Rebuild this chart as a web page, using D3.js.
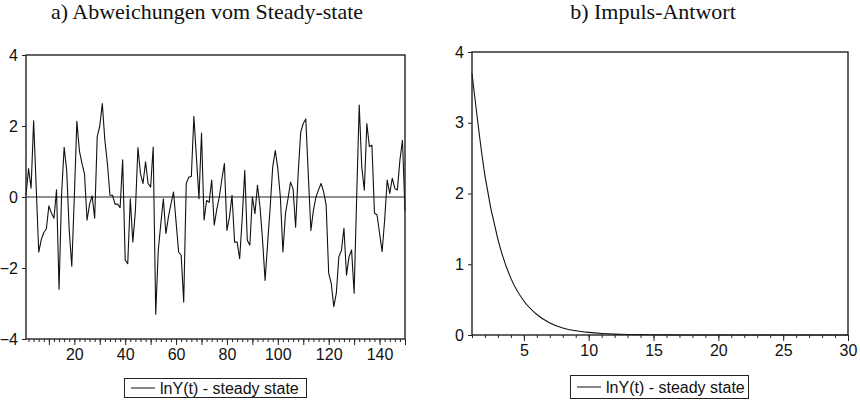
<!DOCTYPE html>
<html>
<head>
<meta charset="utf-8">
<script src="https://cdn.jsdelivr.net/npm/d3@7"></script>
<style>
  body { margin: 0; background: #fff; }
  .title { font-family: "Liberation Serif", "Times New Roman", serif; font-size: 22px; fill: #111; }
  .tick text, .lbl { font-family: "Liberation Sans", Arial, sans-serif; font-size: 16px; fill: #111; }
</style>
</head>
<body>
<svg id="chart" width="860" height="405"></svg>
<script>
// a) deviations from steady state, t = 1..150
var devValues = [
  0.05, 0.8, 0.25, 2.15, 0.3, -1.55, -1.2, -1.0, -0.9, -0.25,
  -0.45, -0.6, 0.2, -2.6, 0.1, 1.4, 0.75, -0.95, -1.95, 0.0,
  2.13, 1.3, 0.95, 0.65, -0.65, -0.2, 0.03, -0.6, 1.7, 2.0,
  2.63, 1.6, 0.95, 0.05, 0.05, -0.2, -0.2, -0.3, 1.05, -1.78,
  -1.88, -0.05, -1.27, -0.4, 1.39, 0.66, 0.38, 0.99, 0.38, 0.28,
  1.41, -3.3, -1.5, -0.75, -0.05, -1.03, -0.56, -0.19, 0.14, -0.7,
  -1.55, -1.64, -2.96, 0.38, 0.56, 0.58, 2.27, 1.13, -0.05, 1.8,
  -0.65, -0.1, -0.15, 0.48, -0.79, -0.35, 0.0, 0.5, 0.94, -0.94,
  -0.56, 0.05, -1.27, -1.27, -1.74, -0.6, 0.75, -1.22, -1.36, 0.0,
  -0.47, 0.33, -0.28, -1.22, -2.35, -1.3, -0.28, 0.85, 1.31, 0.8,
  0.0, -1.55, -0.47, -0.05, 0.42, 0.23, -0.85, 0.66, 1.83, 2.07,
  2.2, 0.6, -0.94, -0.37, 0.0, 0.2, 0.38, 0.15, -0.23, -2.15,
  -2.43, -3.09, -2.71, -1.68, -1.51, -0.88, -2.2, -1.68, -1.49, -2.71,
  0.0, 2.59, 0.85, 0.19, 2.07, 1.42, 1.46, -0.46, -0.5, -1.02,
  -1.54, -0.65, 0.48, 0.1, 0.53, 0.24, 0.2, 1.04, 1.6, -0.4
];

// b) impulse response, t = 1..30
var irfValues = [
  3.7, 2.25, 1.35, 0.8, 0.48, 0.29, 0.17, 0.1, 0.06, 0.037,
  0.022, 0.013, 0.008, 0.005, 0.003, 0.002, 0.001, 0.001, 0.0, 0.0,
  0.0, 0.0, 0.0, 0.0, 0.0, 0.0, 0.0, 0.0, 0.0, 0.0
];

var devTicksY = [-4, -2, 0, 2, 4];
var devTicksX = [20, 40, 60, 80, 100, 120, 140];
var irfTicksY = [0, 1, 2, 3, 4];
var irfTicksX = [5, 10, 15, 20, 25, 30];

var titles = ["a) Abweichungen vom Steady-state", "b) Impuls-Antwort"];
var legendLabel = "lnY(t) - steady state";

var svg = d3.select("#chart");

// panel geometry
var panels = [
  {left: 26, right: 405, top: 55, bottom: 339, titleX: 207,
   legend: {x: 124, y: 378, w: 182, h: 19, line: 24}},
  {left: 472, right: 848, top: 52, bottom: 335, titleX: 653,
   legend: {x: 570, y: 375, w: 178, h: 23, line: 24}}
];

function drawFrame(g, p) {
  g.append("rect")
    .attr("x", p.left).attr("y", p.top)
    .attr("width", p.right - p.left).attr("height", p.bottom - p.top)
    .attr("fill", "none").attr("stroke", "#222").attr("stroke-width", 1.4);
}

function drawLegend(g, lg) {
  g.append("rect")
    .attr("x", lg.x + 0.5).attr("y", lg.y + 0.5)
    .attr("width", lg.w).attr("height", lg.h)
    .attr("fill", "#fff").attr("stroke", "#222").attr("stroke-width", 1);
  g.append("line")
    .attr("x1", lg.x + 7).attr("x2", lg.x + 7 + lg.line)
    .attr("y1", lg.y + lg.h / 2 + 0.5).attr("y2", lg.y + lg.h / 2 + 0.5)
    .attr("stroke", "#111").attr("stroke-width", 1);
  g.append("text")
    .attr("class", "lbl")
    .attr("x", lg.x + lg.line + 12)
    .attr("y", lg.y + lg.h / 2 + 6)
    .text(legendLabel);
}

function styleAxis(sel) {
  sel.select(".domain").remove();
  sel.selectAll(".tick line").attr("stroke", "#222");
}

// ---------- panel a ----------
var pa = panels[0];
var ga = svg.append("g");

var xa = d3.scaleLinear().domain([1, devValues.length]).range([pa.left, pa.right]);
var ya = d3.scaleLinear().domain([-4, 4]).range([pa.bottom, pa.top]);

ga.append("text").attr("class", "title")
  .attr("x", pa.titleX).attr("y", 19).attr("text-anchor", "middle")
  .text(titles[0]);

// minor ticks every 2, longer every 10
ga.append("g")
  .attr("transform", "translate(0," + pa.bottom + ")")
  .call(d3.axisBottom(xa).tickValues(d3.range(2, 151, 2)).tickSize(3).tickFormat(""))
  .call(styleAxis);
ga.append("g")
  .attr("transform", "translate(0," + pa.bottom + ")")
  .call(d3.axisBottom(xa).tickValues(d3.range(10, 151, 10)).tickSize(6).tickFormat(""))
  .call(styleAxis);
ga.append("g")
  .attr("transform", "translate(0," + pa.bottom + ")")
  .call(d3.axisBottom(xa).tickValues(devTicksX).tickSize(0).tickPadding(10))
  .call(styleAxis);

ga.append("g")
  .attr("transform", "translate(" + pa.left + ",0)")
  .call(d3.axisLeft(ya).tickValues(devTicksY).tickSize(4).tickPadding(4).tickFormat(d3.format("d")))
  .call(styleAxis);

ga.selectAll(".tick text").attr("class", "lbl");

ga.append("line")
  .attr("x1", pa.left).attr("x2", pa.right)
  .attr("y1", ya(0)).attr("y2", ya(0))
  .attr("stroke", "#222").attr("stroke-width", 1);

ga.append("path")
  .datum(devValues)
  .attr("fill", "none")
  .attr("stroke", "#111")
  .attr("stroke-width", 1.1)
  .attr("stroke-linejoin", "round")
  .attr("d", d3.line().x(function (d, i) { return xa(i + 1); }).y(function (d) { return ya(d); }));

drawFrame(ga, pa);
drawLegend(ga, pa.legend);

// ---------- panel b ----------
var pb = panels[1];
var gb = svg.append("g");

var xb = d3.scaleLinear().domain([1, irfValues.length]).range([pb.left, pb.right]);
var yb = d3.scaleLinear().domain([0, 4]).range([pb.bottom, pb.top]);

gb.append("text").attr("class", "title")
  .attr("x", pb.titleX).attr("y", 19).attr("text-anchor", "middle")
  .text(titles[1]);

gb.append("g")
  .attr("transform", "translate(0," + pb.bottom + ")")
  .call(d3.axisBottom(xb).tickValues(d3.range(1, 31)).tickSize(3).tickFormat(""))
  .call(styleAxis);
gb.append("g")
  .attr("transform", "translate(0," + pb.bottom + ")")
  .call(d3.axisBottom(xb).tickValues(irfTicksX).tickSize(6).tickPadding(4))
  .call(styleAxis);

gb.append("g")
  .attr("transform", "translate(" + pb.left + ",0)")
  .call(d3.axisLeft(yb).tickValues(irfTicksY).tickSize(4).tickPadding(4).tickFormat(d3.format("d")))
  .call(styleAxis);

gb.selectAll(".tick text").attr("class", "lbl");

gb.append("path")
  .datum(irfValues)
  .attr("fill", "none")
  .attr("stroke", "#111")
  .attr("stroke-width", 1.1)
  .attr("d", d3.line().curve(d3.curveMonotoneX)
    .x(function (d, i) { return xb(i + 1); }).y(function (d) { return yb(d); }));

drawFrame(gb, pb);
drawLegend(gb, pb.legend);
</script>
</body>
</html>
